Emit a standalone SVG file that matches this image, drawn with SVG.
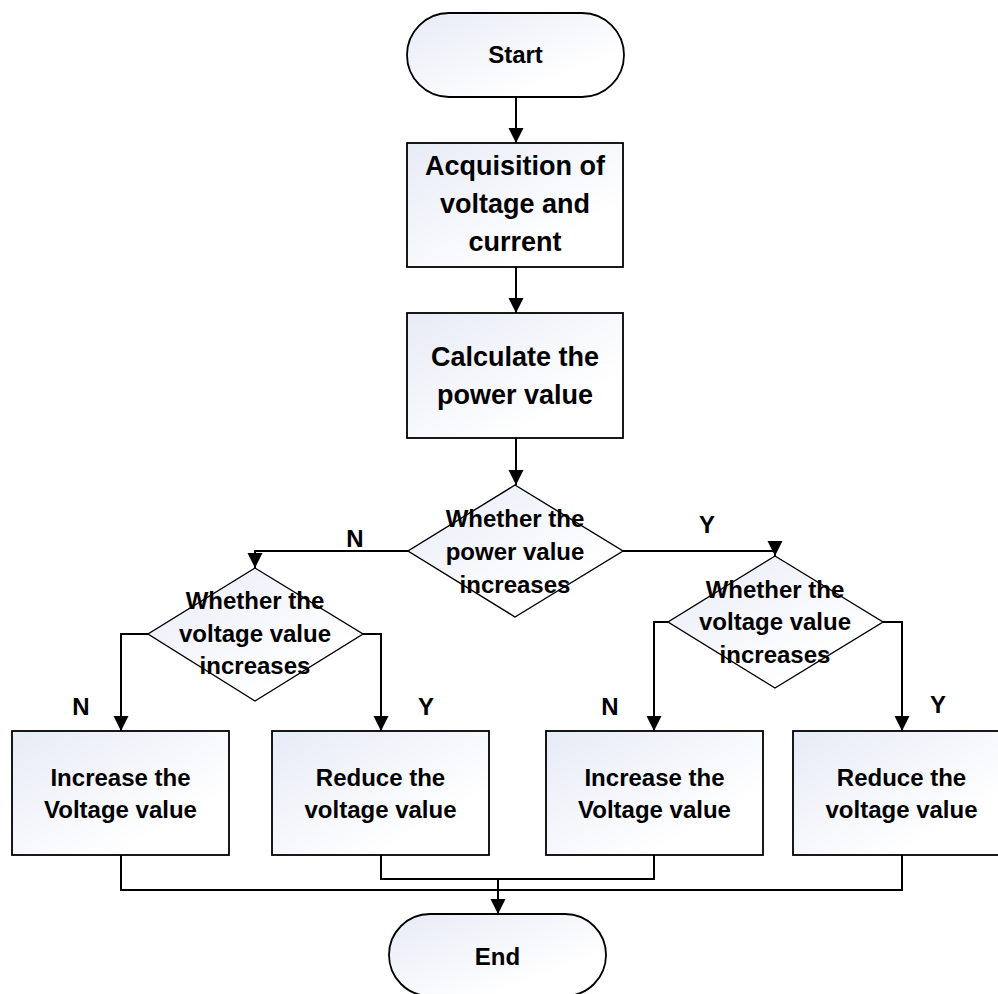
<svg xmlns="http://www.w3.org/2000/svg" width="998" height="994" viewBox="0 0 998 994">
<style>
.shape{fill:url(#g);stroke:#000;stroke-width:1.8}
.dia{fill:url(#g);stroke:#000;stroke-width:1.4}
.conn{fill:none;stroke:#000;stroke-width:2}
text{font-family:"Liberation Sans",Arial,sans-serif;font-weight:bold;fill:#000;text-anchor:middle}
.big{font-size:27px}
.mid{font-size:24px}
</style>
<defs>
<linearGradient id="g" x1="0" y1="0" x2="1" y2="1">
<stop offset="0" stop-color="#e7ebf6"/>
<stop offset="0.75" stop-color="#ffffff"/>
</linearGradient>
<marker id="arr" markerUnits="userSpaceOnUse" markerWidth="16" markerHeight="16" refX="15" refY="7.5" orient="auto">
<path d="M0,0 L15,7.5 L0,15 z" fill="#000"/>
</marker>
</defs>
<rect width="998" height="994" fill="#fff"/>
<g id="connectors">
<path class="conn" d="M516,97 V143" marker-end="url(#arr)"/>
<path class="conn" d="M516,267 V313" marker-end="url(#arr)"/>
<path class="conn" d="M516,438 V485" marker-end="url(#arr)"/>
<path class="conn" d="M408,551 H255 V568" marker-end="url(#arr)"/>
<path class="conn" d="M623,551 H775 V556" marker-end="url(#arr)"/>
<path class="conn" d="M148,634 H121 V731" marker-end="url(#arr)"/>
<path class="conn" d="M363,634 H381 V731" marker-end="url(#arr)"/>
<path class="conn" d="M668,622 H654 V731" marker-end="url(#arr)"/>
<path class="conn" d="M883,622 H902 V731" marker-end="url(#arr)"/>
<path class="conn" d="M121,855 V890 H902 V855"/>
<path class="conn" d="M381,855 V879 H654 V855"/>
<path class="conn" d="M498,879 V914" marker-end="url(#arr)"/>
<text class="mid" x="355" y="547">N</text>
<text class="mid" x="707" y="533">Y</text>
<text class="mid" x="81" y="715">N</text>
<text class="mid" x="426" y="715">Y</text>
<text class="mid" x="610" y="715">N</text>
<text class="mid" x="938" y="713">Y</text>
</g>
<g id="start">
<rect class="shape" x="407" y="13" width="217" height="84" rx="42" ry="42"/>
<text class="mid" x="515.5" y="63">Start</text>
</g>
<g id="acquire">
<rect class="shape" x="407" y="143" width="216" height="124"/>
<text class="big" x="515" y="175">Acquisition of</text>
<text class="big" x="515" y="213">voltage and</text>
<text class="big" x="515" y="251">current</text>
</g>
<g id="calc">
<rect class="shape" x="407" y="313" width="216" height="125"/>
<text class="big" x="515" y="366">Calculate the</text>
<text class="big" x="515" y="404">power value</text>
</g>
<g id="dec-power">
<polygon class="dia" points="515,485 623,551 515,617 408,551"/>
<text class="mid" x="515" y="527">Whether the</text>
<text class="mid" x="515" y="560">power value</text>
<text class="mid" x="515" y="593">increases</text>
</g>
<g id="dec-volt-left">
<polygon class="dia" points="255,568 363,634 255,701 148,634"/>
<text class="mid" x="255" y="609">Whether the</text>
<text class="mid" x="255" y="642">voltage value</text>
<text class="mid" x="255" y="674">increases</text>
</g>
<g id="dec-volt-right">
<polygon class="dia" points="775,556 883,622 775,688 668,622"/>
<text class="mid" x="775" y="598">Whether the</text>
<text class="mid" x="775" y="630">voltage value</text>
<text class="mid" x="775" y="663">increases</text>
</g>
<g id="inc-left">
<rect class="shape" x="12" y="731" width="217" height="124"/>
<text class="mid" x="120.5" y="786">Increase the</text>
<text class="mid" x="120.5" y="818">Voltage value</text>
</g>
<g id="red-left">
<rect class="shape" x="272" y="731" width="217" height="124"/>
<text class="mid" x="380.5" y="786">Reduce the</text>
<text class="mid" x="380.5" y="818">voltage value</text>
</g>
<g id="inc-right">
<rect class="shape" x="546" y="731" width="217" height="124"/>
<text class="mid" x="654.5" y="786">Increase the</text>
<text class="mid" x="654.5" y="818">Voltage value</text>
</g>
<g id="red-right">
<rect class="shape" x="793" y="731" width="217" height="124"/>
<text class="mid" x="901.5" y="786">Reduce the</text>
<text class="mid" x="901.5" y="818">voltage value</text>
</g>
<g id="end">
<rect class="shape" x="389" y="914" width="217" height="82" rx="41" ry="41"/>
<text class="mid" x="497.5" y="965">End</text>
</g>
</svg>
